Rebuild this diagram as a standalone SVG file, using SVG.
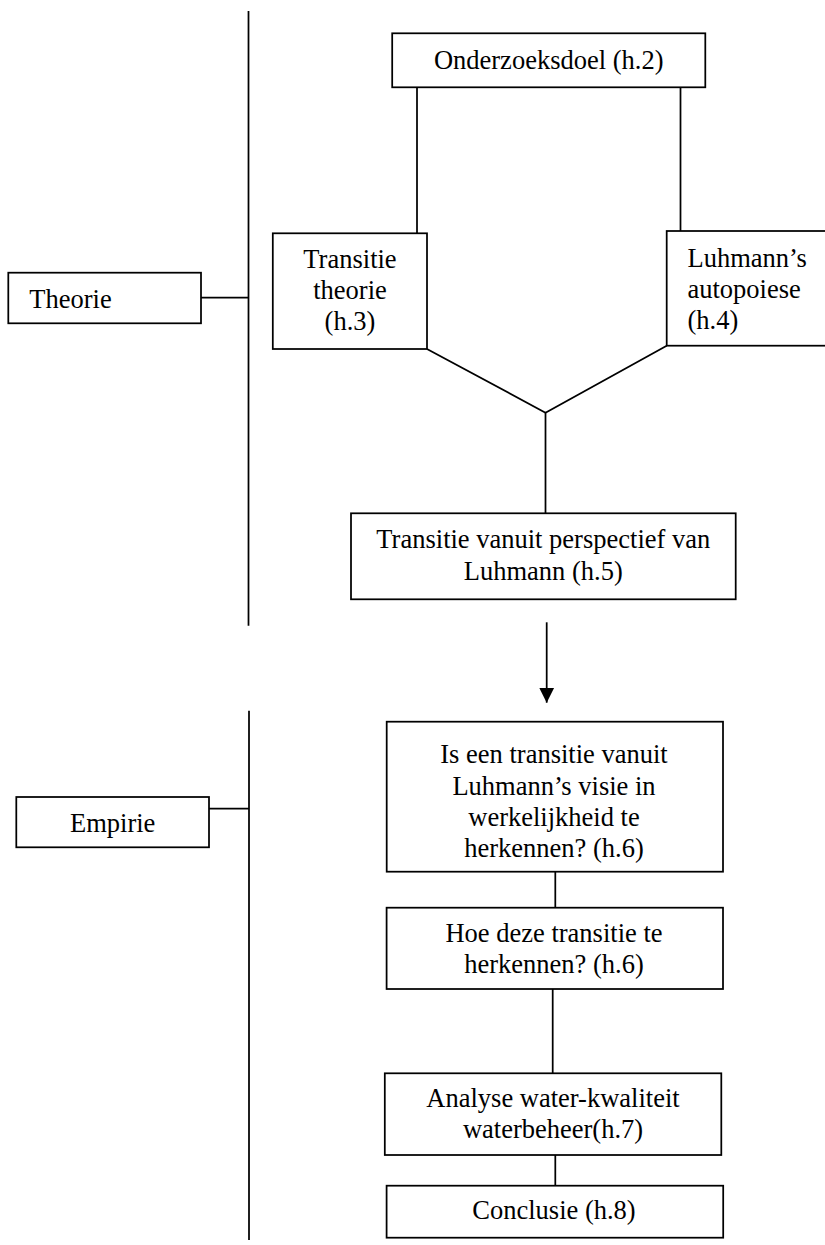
<svg xmlns="http://www.w3.org/2000/svg" width="825" height="1245" viewBox="0 0 825 1245">
<style>
  .box { fill: #ffffff; stroke: #000000; stroke-width: 1.75; }
  .ln { fill: none; stroke: #000000; stroke-width: 1.75; }
  text { font-family: "Liberation Serif", "Times New Roman", serif; font-size: 26.5px; fill: #000000; }
  .c { text-anchor: middle; }
</style>
<defs>
  <marker id="arrow" markerUnits="userSpaceOnUse" markerWidth="16" markerHeight="16" refX="15" refY="8" orient="auto">
    <path d="M0,0.5 L15,8 L0,15.5 Z" fill="#000000"/>
  </marker>
</defs>

<g id="connectors">
  <line class="ln" x1="248.5" y1="11" x2="248.5" y2="625.7"/>
  <line class="ln" x1="249" y1="710.7" x2="249" y2="1240"/>
  <line class="ln" x1="201" y1="297.7" x2="248.5" y2="297.7"/>
  <line class="ln" x1="209" y1="808.7" x2="249" y2="808.7"/>
  <line class="ln" x1="417" y1="87.3" x2="417" y2="233.3"/>
  <line class="ln" x1="680.5" y1="87.3" x2="680.5" y2="231"/>
  <polyline class="ln" points="427,349 545.5,412.7 666.7,345.7"/>
  <line class="ln" x1="545.5" y1="412.7" x2="545.5" y2="513.3"/>
  <line class="ln" x1="546.7" y1="622.3" x2="546.7" y2="702.7" marker-end="url(#arrow)"/>
  <line class="ln" x1="555.3" y1="871.7" x2="555.3" y2="907.7"/>
  <line class="ln" x1="552.7" y1="989" x2="552.7" y2="1073.3"/>
  <line class="ln" x1="555.3" y1="1155" x2="555.3" y2="1185.7"/>
</g>

<g id="theorie">
  <rect class="box" x="8.3" y="272.7" width="192.7" height="50.6"/>
  <text x="29.3" y="307.7">Theorie</text>
</g>

<g id="empirie">
  <rect class="box" x="16.3" y="797" width="192.7" height="50.3"/>
  <text class="c" x="112.7" y="831.7">Empirie</text>
</g>

<g id="onderzoeksdoel">
  <rect class="box" x="392.2" y="33.3" width="313.1" height="54"/>
  <text class="c" x="548.7" y="69">Onderzoeksdoel (h.2)</text>
</g>

<g id="transitie-theorie">
  <rect class="box" x="272.8" y="233.3" width="154.2" height="115.7"/>
  <text class="c" x="350" y="268.3">Transitie</text>
  <text class="c" x="350" y="299.3">theorie</text>
  <text class="c" x="350" y="330">(h.3)</text>
</g>

<g id="luhmann-autopoiese">
  <rect class="box" x="666.7" y="231" width="170" height="114.7"/>
  <text x="687.5" y="266.7">Luhmann’s</text>
  <text x="687.5" y="297.7">autopoiese</text>
  <text x="687.5" y="328.5">(h.4)</text>
</g>

<g id="transitie-luhmann">
  <rect class="box" x="351" y="513.3" width="384.7" height="86"/>
  <text class="c" x="543.3" y="548.3">Transitie vanuit perspectief van</text>
  <text class="c" x="543.3" y="580">Luhmann (h.5)</text>
</g>

<g id="is-een-transitie">
  <rect class="box" x="386.7" y="721.7" width="336.3" height="150"/>
  <text class="c" x="554" y="763.3">Is een transitie vanuit</text>
  <text class="c" x="554" y="795">Luhmann’s visie in</text>
  <text class="c" x="554" y="826">werkelijkheid te</text>
  <text class="c" x="554" y="856.7">herkennen? (h.6)</text>
</g>

<g id="hoe-deze-transitie">
  <rect class="box" x="386.6" y="907.7" width="336.4" height="81.3"/>
  <text class="c" x="554" y="941.7">Hoe deze transitie te</text>
  <text class="c" x="554" y="972.7">herkennen? (h.6)</text>
</g>

<g id="analyse">
  <rect class="box" x="384.8" y="1073.3" width="336.5" height="81.7"/>
  <text class="c" x="553" y="1107.3">Analyse water-kwaliteit</text>
  <text class="c" x="553" y="1138.3">waterbeheer(h.7)</text>
</g>

<g id="conclusie">
  <rect class="box" x="386.6" y="1185.7" width="336.6" height="52"/>
  <text class="c" x="554" y="1219.3">Conclusie (h.8)</text>
</g>
</svg>
